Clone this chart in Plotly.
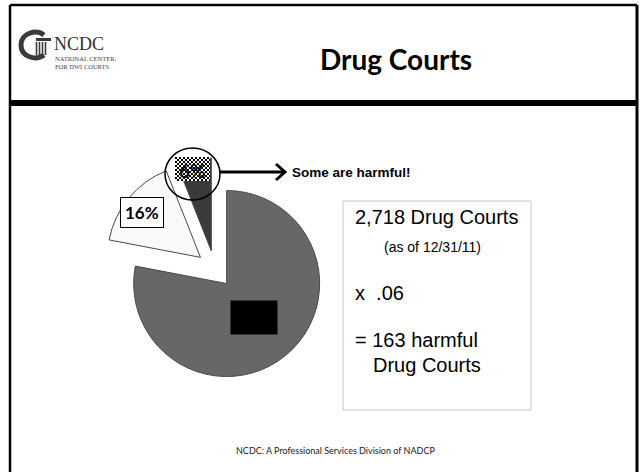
import base64
import plotly.graph_objects as go

# ---- data ----
slice_labels = ["Other drug courts", "Some", "Harmful"]
slice_values = [78, 16, 6]
slice_text = ["78%", "16%", "6%"]
slice_colors = ["#676767", "#f9f9f9", "#3a3a3a"]

title_text = "Drug Courts"
callout_text = "Some are harmful!"
box_lines = ["2,718 Drug Courts", "(as of 12/31/11)", "x  .06", "= 163 harmful", "Drug Courts"]
footer_text = "NCDC: A Professional Services Division of NADCP"

W, H = 640, 472

fig = go.Figure()

# pie: all slices exploded equally
pull = 0.2
cx, cy, r = 214.8, 269.2, 93.0
half = r * (1 + pull)
fig.add_trace(go.Pie(
    labels=slice_labels, values=slice_values, sort=False, direction="clockwise",
    rotation=0, pull=[pull] * 3, textinfo="none", hoverinfo="skip", showlegend=False,
    marker=dict(colors=slice_colors, line=dict(color="#4a4a4a", width=1)),
    domain=dict(x=[(cx - half) / W, (cx + half) / W], y=[1 - (cy + half) / H, 1 - (cy - half) / H]),
))

# dummy cartesian axes in pixel units for decorations
fig.add_trace(go.Scatter(x=[0, W], y=[0, H], mode="markers", marker=dict(opacity=0), hoverinfo="skip", showlegend=False))

shapes = []
# slide frame
shapes.append(dict(type="line", x0=10, x1=10, y0=5, y1=H, line=dict(color="black", width=2.5)))
shapes.append(dict(type="line", x0=637, x1=637, y0=5, y1=H, line=dict(color="black", width=3)))
shapes.append(dict(type="line", x0=10, x1=637, y0=5, y1=5, line=dict(color="black", width=2.5)))
shapes.append(dict(type="line", x0=10, x1=637, y0=103, y1=103, line=dict(color="black", width=6)))
# info box
shapes.append(dict(type="rect", x0=343, x1=531, y0=201, y1=410, line=dict(color="#c8c8c8", width=1)))
# circle around 6%
shapes.append(dict(type="circle", x0=165, x1=220, y0=148, y1=200, line=dict(color="black", width=1.5), layer="above"))
# arrow
shapes.append(dict(type="line", x0=220, x1=284, y0=172, y1=172, line=dict(color="black", width=3), layer="above"))
shapes.append(dict(type="path", path="M 276 164 L 285 172 L 276 180", line=dict(color="black", width=3), layer="above"))
# logo icon: C arc + lintel + columns
shapes.append(dict(type="path", path="M 44 35 C 36 29 21 33 21 45 C 21 57 36 61 44 55",
                   line=dict(color="#3a3a3a", width=5)))
shapes.append(dict(type="line", x0=36, x1=51, y0=39.5, y1=39.5, line=dict(color="#3a3a3a", width=3)))
for xc in [36.5, 39.5, 42.5, 45.5]:
    shapes.append(dict(type="line", x0=xc, x1=xc, y0=42, y1=55, line=dict(color="#3a3a3a", width=1.6)))

# checkered label background for 6%
svg = ('<svg xmlns="http://www.w3.org/2000/svg" width="35" height="24">'
       '<defs><pattern id="p" width="4" height="4" patternUnits="userSpaceOnUse">'
       '<rect width="4" height="4" fill="white"/><rect width="2" height="2" fill="black"/>'
       '<rect x="2" y="2" width="2" height="2" fill="black"/></pattern></defs>'
       '<rect width="35" height="24" fill="url(#p)"/></svg>')
src = "data:image/svg+xml;base64," + base64.b64encode(svg.encode()).decode()

annotations = []
def txt(x, y, s, size, family="Liberation Sans", color="black", xanchor="left", **kw):
    annotations.append(dict(x=x, y=y, xref="x", yref="y", text=s, showarrow=False,
                            xanchor=xanchor, yanchor="middle",
                            font=dict(size=size, family=family, color=color), **kw))

txt(396, 59, "<b>" + title_text + "</b>", 28, family="Lato", xanchor="center")
# logo texts
txt(52, 44, "NCDC", 18, family="Liberation Serif", color="#333")
txt(53, 58, "NATIONAL CENTER.", 6.5, family="Liberation Serif", color="#444")
txt(53, 66, "FOR DWI COURTS", 6.5, family="Liberation Serif", color="#444")

# slice labels
txt(142, 212, "<b>" + slice_text[1] + "</b>", 17, family="Lato", xanchor="center",
    bgcolor="white", bordercolor="black", borderwidth=1, borderpad=4)
txt(254, 317.5, "<b>" + slice_text[0] + "</b>", 17, family="Lato", xanchor="center",
    bgcolor="black", borderpad=6)
txt(192.5, 170, "<b>" + slice_text[2] + "</b>", 19, family="Lato", color="#111", xanchor="center")
txt(290, 172, "<b>" + callout_text + "</b>", 13.5)

# info box text
txt(353, 217, box_lines[0], 20)
txt(382, 247, box_lines[1], 14)
txt(353, 293, box_lines[2], 20)
txt(353, 340, box_lines[3], 20)
txt(371, 365, box_lines[4], 20)

txt(335, 450, footer_text, 9, family="Lato", color="#222", xanchor="center")

fig.update_layout(
    width=W, height=H, margin=dict(l=0, r=0, t=0, b=0),
    paper_bgcolor="white", plot_bgcolor="rgba(0,0,0,0)",
    xaxis=dict(range=[0, W], visible=False, fixedrange=True),
    yaxis=dict(range=[H, 0], visible=False, fixedrange=True),
    shapes=shapes, annotations=annotations,
    images=[dict(source=src, xref="x", yref="y", x=175, y=157, sizex=35, sizey=24,
                 sizing="stretch", xanchor="left", yanchor="top", layer="above")],
)

fig.write_html("out.html", config={"displayModeBar": False},
               post_script="document.body.style.margin='0';")
